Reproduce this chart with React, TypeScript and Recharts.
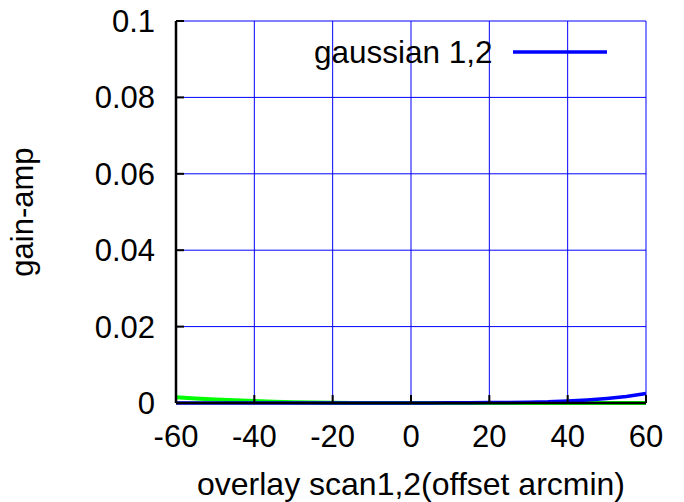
import React from 'react';
import { LineChart, Line, XAxis, YAxis, CartesianGrid, Label } from 'recharts';

const offsets = [-60, -55, -50, -45, -40, -35, -30, -25, -20, -15, -10, -5, 0, 5, 10, 15, 20, 25, 30, 35, 40, 45, 50, 55, 60];
const gaussian12 = [0, 0, 0, 0, 0, 0, 0, 0, 0, 0, 0, 0, 0, 0.00002, 0.00004, 0.00007, 0.0001, 0.00015, 0.00022, 0.0003, 0.0005, 0.0008, 0.0012, 0.0017, 0.0025];
const other12 = [0.0015, 0.0012, 0.0009, 0.0007, 0.0005, 0.00035, 0.00022, 0.00012, 0.00006, 0.00002, 0, 0, 0, 0, 0, 0, 0, 0, 0, 0, 0, 0, 0, 0, 0];
const xTicks = [-60, -40, -20, 0, 20, 40, 60];
const yTicks = [0, 0.02, 0.04, 0.06, 0.08, 0.1];

const data = offsets.map((x, i) => ({ x, g: gaussian12[i], o: other12[i] }));

const font = 'Liberation Sans, Arial, sans-serif';
const fs = 31;

export default function App() {
  return (
    <div style={{ position: 'absolute', left: 0, top: 0, width: 684, height: 502, background: '#fff' }}>
      <LineChart width={684} height={502} data={data} margin={{ top: 21, right: 38, bottom: 69, left: 0 }}>
        <CartesianGrid stroke="#0000ff" strokeWidth={1} horizontalValues={yTicks} verticalValues={xTicks} />
        <XAxis dataKey="x" type="number" domain={[-60, 60]} ticks={xTicks} interval={0} height={30}
          stroke="#000" strokeWidth={2.5} tickSize={-8} tickMargin={30}
          tick={{ fill: '#000', fontSize: fs, fontFamily: font }} tickLine={{ stroke: '#000', strokeWidth: 2 }}>
          <Label value="overlay scan1,2(offset arcmin)" position="bottom" offset={39} style={{ fill: '#000', fontSize: 32, fontFamily: font }} />
        </XAxis>
        <XAxis xAxisId="top" dataKey="x" type="number" domain={[-60, 60]} ticks={xTicks} orientation="top"
          stroke="#000" strokeWidth={2.5} tickSize={-8} tick={false} tickLine={{ stroke: '#000', strokeWidth: 2 }} height={0} />
        <YAxis type="number" domain={[0, 0.1]} ticks={yTicks} width={176} interval={0}
          stroke="#000" strokeWidth={2.5} tickSize={-8} tickMargin={29}
          tick={{ fill: '#000', fontSize: fs, fontFamily: font }} tickLine={{ stroke: '#000', strokeWidth: 2 }}>
          <Label value="gain-amp" angle={-90} position="insideLeft" offset={22} style={{ fill: '#000', fontSize: fs, fontFamily: font, textAnchor: 'middle' }} />
        </YAxis>
        <YAxis yAxisId="right" type="number" domain={[0, 0.1]} ticks={yTicks} orientation="right" width={0}
          stroke="#000" strokeWidth={2.5} tickSize={-8} tick={false} tickLine={{ stroke: '#000', strokeWidth: 2 }} />
        <Line dataKey="o" stroke="#00ff00" strokeWidth={4} dot={false} isAnimationActive={false} legendType="none" />
        <Line dataKey="g" stroke="#0000ff" strokeWidth={3.5} dot={false} isAnimationActive={false} />
      </LineChart>
      <div style={{ position: 'absolute', left: 314, top: 37, display: 'flex', alignItems: 'center', fontFamily: font, fontSize: 31.5, lineHeight: '31px', color: '#000', whiteSpace: 'nowrap' }}>
        <span>gaussian 1,2</span>
      </div>
      <svg width={100} height={10} style={{ position: 'absolute', left: 510, top: 47 }}>
        <line x1={3} y1={5} x2={97} y2={5} stroke="#0000ff" strokeWidth={3.5} />
      </svg>
    </div>
  );
}
